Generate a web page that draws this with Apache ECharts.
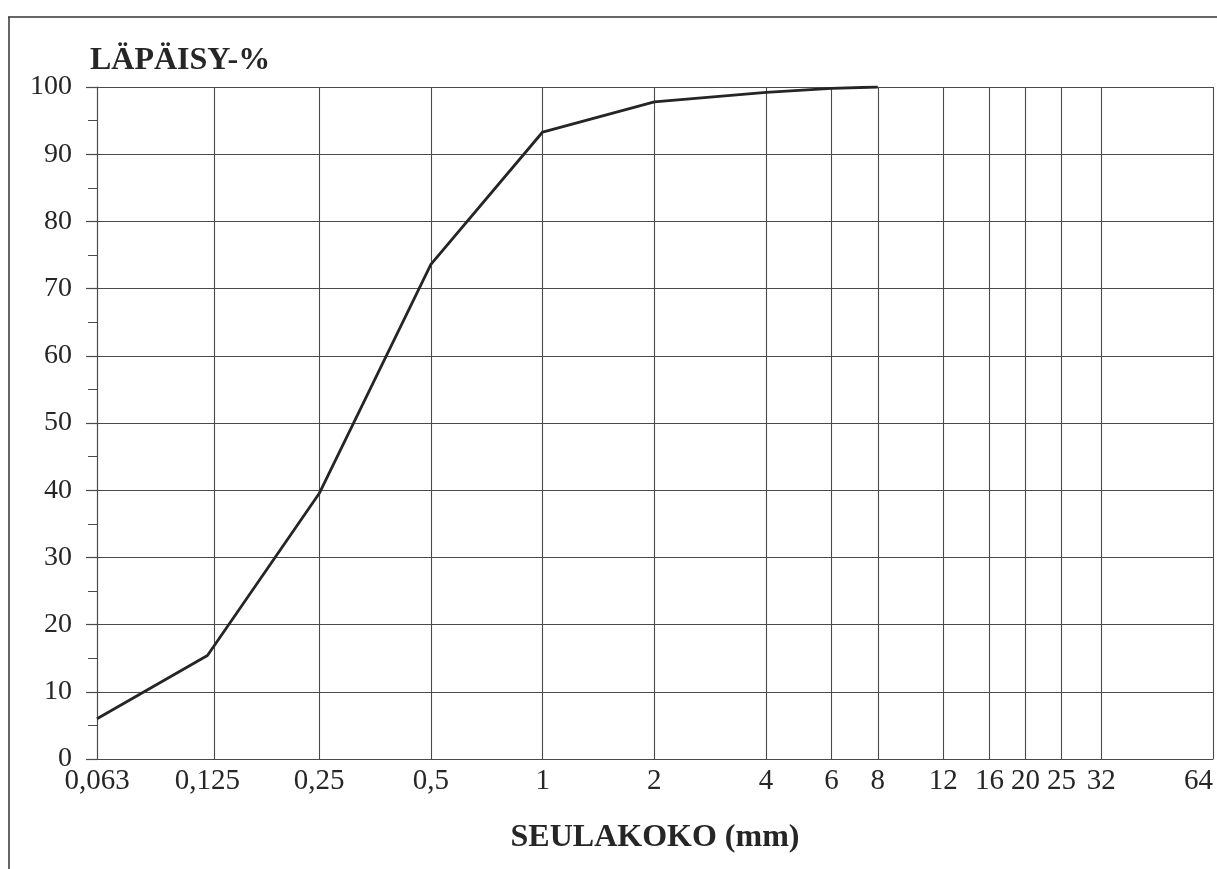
<!DOCTYPE html>
<html><head><meta charset="utf-8">
<script src="https://cdn.jsdelivr.net/npm/echarts@6/dist/echarts.min.js"></script>
<style>html,body{margin:0;padding:0;background:#fff}#c{width:1217px;height:869px}</style>
</head><body><div id="c"></div><script>
const sieveSizes = [0.063, 0.125, 0.25, 0.5, 1, 2, 4, 6, 8];
const passing = [6.0, 15.4, 39.5, 73.6, 93.3, 97.8, 99.2, 99.8, 100];
const xTickValues = [0.063, 0.125, 0.25, 0.5, 1, 2, 4, 6, 8, 12, 16, 20, 25, 32, 64];
const xTickLabels = ['0,063', '0,125', '0,25', '0,5', '1', '2', '4', '6', '8', '12', '16', '20', '25', '32', '64'];
const yTitle = 'LÄPÄISY-%';
const xTitle = 'SEULAKOKO (mm)';

const FONT = '"Liberation Serif", "DejaVu Serif", serif';
const TXT = '#262626';
const GRIDC = '#4a4a4a';

function labelFor(v) {
  let best = 0, bd = Infinity;
  xTickValues.forEach((t, i) => {
    const d = Math.abs(Math.log(v) - Math.log(t));
    if (d < bd) { bd = d; best = i; }
  });
  return xTickLabels[best];
}

const chart = echarts.init(document.getElementById('c'), null, {renderer: 'canvas'});
chart.setOption({
  animation: false,
  backgroundColor: '#fff',
  title: {
    text: yTitle, left: 85, top: 40,
    textStyle: {fontFamily: FONT, fontWeight: 'bold', fontSize: 32, color: TXT}
  },
  graphic: [
    {type: 'line', shape: {x1: 8, y1: 17, x2: 1217, y2: 17}, style: {stroke: '#333', lineWidth: 1.5}},
    {type: 'line', shape: {x1: 9, y1: 17, x2: 9, y2: 869}, style: {stroke: '#333', lineWidth: 1.5}}
  ],
  grid: {left: 97, right: 4, top: 87, bottom: 110, containLabel: false},
  xAxis: {
    type: 'log', logBase: 2, min: 0.063, max: 64,
    axisLine: {show: true, lineStyle: {color: GRIDC, width: 1.2}},
    axisTick: {show: false},
    splitLine: {show: false},
    minorSplitLine: {show: false},
    axisLabel: {
      customValues: xTickValues,
      formatter: v => labelFor(v),
      fontFamily: FONT, fontSize: 29, color: TXT, margin: 8,
      alignMaxLabel: 'right'
    },
    name: xTitle, nameLocation: 'middle', nameGap: 63,
    nameTextStyle: {fontFamily: FONT, fontWeight: 'bold', fontSize: 32, color: TXT}
  },
  yAxis: {
    type: 'value', min: 0, max: 100, interval: 10,
    axisLine: {show: true, lineStyle: {color: GRIDC, width: 1.2}},
    axisTick: {show: true, length: 11, lineStyle: {color: GRIDC, width: 1.2}},
    minorTick: {show: true, splitNumber: 2, length: 9, lineStyle: {color: GRIDC, width: 1}},
    splitLine: {show: true, lineStyle: {color: GRIDC, width: 1.2}},
    axisLabel: {fontFamily: FONT, fontSize: 28, color: TXT, margin: 25}
  },
  series: [{
    type: 'line',
    data: sieveSizes.map((s, i) => [s, passing[i]]),
    symbol: 'none',
    lineStyle: {color: '#252525', width: 2.8},
    z: 5,
    markLine: {
      silent: true,
      symbol: ['none', 'none'],
      label: {show: false},
      lineStyle: {color: GRIDC, width: 1.1, type: 'solid'},
      data: xTickValues.map(v => ({xAxis: v}))
    }
  }]
});
</script></body></html>
